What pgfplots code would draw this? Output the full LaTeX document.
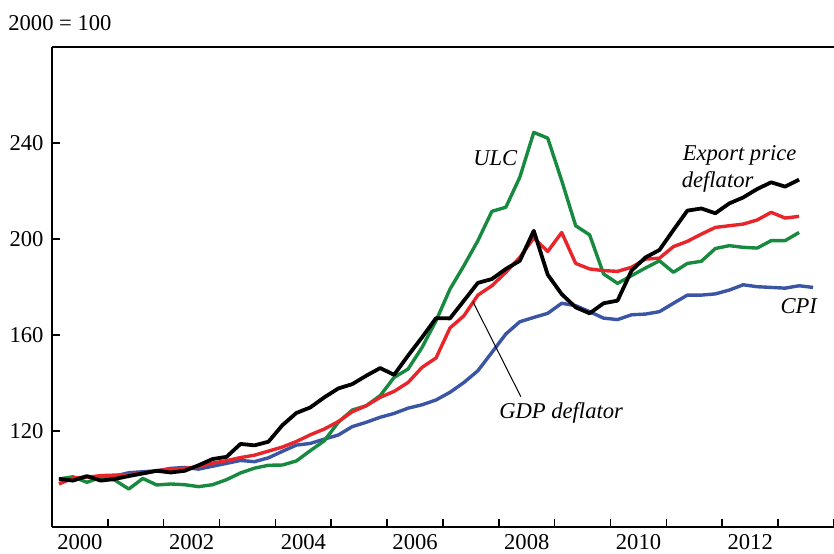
\documentclass[border=0pt]{standalone}
\usepackage{pgfplots}
\pgfplotsset{compat=1.18}
\usepackage{fontspec}
\setmainfont{Liberation Serif}
\definecolor{cred}{HTML}{E8252B}
\definecolor{cgreen}{HTML}{188A3F}
\definecolor{cblue}{HTML}{3B55A5}

% quarterly series, 2000Q1 = 2000.125
\pgfplotstableread{
x      ulc    gdp    cpi    exp
2000.125 99.9  97.8  99.6  99.9
2000.375 100.8 100.3 99.9  99.2
2000.625 98.5  100.6 100.8 101.1
2000.875 100.6 101.3 100.8 99.2
2001.125 99.4  101.5 101.1 99.9
2001.375 95.7  101.7 102.5 101.1
2001.625 100.1 102.2 102.9 102.2
2001.875 97.4  103.3 103.3 103.3
2002.125 97.8  104.0 104.3 102.6
2002.375 97.5  104.3 104.7 103.3
2002.625 96.7  105.0 104.0 105.6
2002.875 97.5  106.5 105.2 108.2
2003.125 99.6  107.5 106.4 109.1
2003.375 102.4 108.8 107.6 114.5
2003.625 104.4 109.8 107.1 113.9
2003.875 105.6 111.5 108.7 115.4
2004.125 105.7 113.2 111.4 122.3
2004.375 107.4 115.5 114.0 127.4
2004.625 111.7 118.3 114.7 129.7
2004.875 115.8 120.7 116.5 133.9
2005.125 123.5 123.8 118.2 137.6
2005.375 128.6 127.9 121.7 139.4
2005.625 130.4 130.4 123.5 142.9
2005.875 134.6 133.9 125.6 146.1
2006.125 142.2 136.4 127.2 143.3
2006.375 145.7 140.1 129.4 151.3
2006.625 154.7 146.4 130.8 158.9
2006.875 165.8 150.3 132.8 166.9
2007.125 179.0 162.8 136.0 166.8
2007.375 188.8 167.9 140.1 174.2
2007.625 199.2 176.5 145.0 181.6
2007.875 211.4 180.4 152.6 183.2
2008.125 213.1 186.0 160.3 187.4
2008.375 225.6 192.2 165.4 190.8
2008.625 244.3 200.3 167.2 203.3
2008.875 241.9 194.7 168.9 185.0
2009.125 224.2 202.6 173.1 176.9
2009.375 205.4 189.7 172.1 171.4
2009.625 201.6 187.4 169.6 168.9
2009.875 185.3 186.7 166.9 173.1
2010.125 181.4 186.4 166.3 174.2
2010.375 184.6 188.1 168.3 186.7
2010.625 187.8 191.5 168.6 192.2
2010.875 190.8 191.9 169.6 195.3
2011.125 186.0 196.7 173.1 203.6
2011.375 189.7 198.9 176.5 211.7
2011.625 190.6 201.9 176.5 212.6
2011.875 195.9 204.7 177.0 210.6
2012.125 197.1 205.4 178.6 214.7
2012.375 196.4 206.1 180.8 217.2
2012.625 196.1 207.8 180.0 220.7
2012.875 199.2 211.0 179.7 223.5
2013.125 199.2 208.6 179.4 221.7
2013.375 202.6 209.3 180.4 224.6
}\data
\pgfplotstableread{
x cpi
2013.375 180.4
2013.625 179.7
}\cpitail

\begin{document}
\begin{tikzpicture}
\path[use as bounding box] (-26pt,-13.15pt) rectangle (391pt,263.35pt);
\begin{axis}[
  at={(0,0)},anchor=south west,
  scale only axis,width=391pt,height=240pt,
  xmin=2000,xmax=2014,ymin=80,ymax=280,
  axis x line=box,axis y line=left,
  axis line style={-,line width=0.8pt},
  every tick/.style={black,line width=0.8pt},
  tick align=inside,
  xtick pos=bottom,ytick pos=left,
  xtick={2000,...,2014},xticklabels={},
  minor x tick num=3,
  major tick length=4pt,minor tick length=2pt,
  extra x ticks={2000.5,2002.5,2004.5,2006.5,2008.5,2010.5,2012.5},
  extra x tick labels={2000,2002,2004,2006,2008,2010,2012},
  extra x tick style={major tick length=0pt,minor tick length=0pt},
  ytick={120,160,200,240},
  tick label style={font=\fontsize{11.3}{13}\selectfont},
  xticklabel style={yshift=-0.2pt},
  yticklabel style={xshift=-0.7pt},
  /pgf/number format/assume math mode=true,
  /pgf/number format/1000 sep={},
  clip=false,
]
\addplot[cblue,line width=1.7pt,line join=round] table[x=x,y=cpi] {\data};
\addplot[cblue,line width=1.7pt,line join=round] table[x=x,y=cpi] {\cpitail};
\addplot[cgreen,line width=1.7pt,line join=round] table[x=x,y=ulc] {\data};
\addplot[cred,line width=1.7pt,line join=round] table[x=x,y=gdp] {\data};
\addplot[black,line width=1.9pt,line join=round] table[x=x,y=exp] {\data};
\draw[black,line width=0.5pt] (axis cs:2007.536,173.75) -- (axis cs:2008.393,134.2);
\begin{scope}[every node/.style={font=\fontsize{11.3}{13}\selectfont\itshape,inner sep=0pt}]
\node[anchor=base west] at (axis cs:2007.536,230.4) {ULC};
\node[anchor=base west] at (axis cs:2011.286,232.5) {Export price};
\node[anchor=base west] at (axis cs:2011.268,221.25) {deflator};
\node[anchor=base west] at (axis cs:2013.036,168.75) {CPI};
\node[anchor=base west] at (axis cs:2008.0,125) {GDP deflator};
\end{scope}
\end{axis}
\node[anchor=base west,inner sep=0pt,font=\fontsize{11.3}{13}\selectfont] at (-22pt,248.35pt) {2000 = 100};
\end{tikzpicture}
\end{document}
